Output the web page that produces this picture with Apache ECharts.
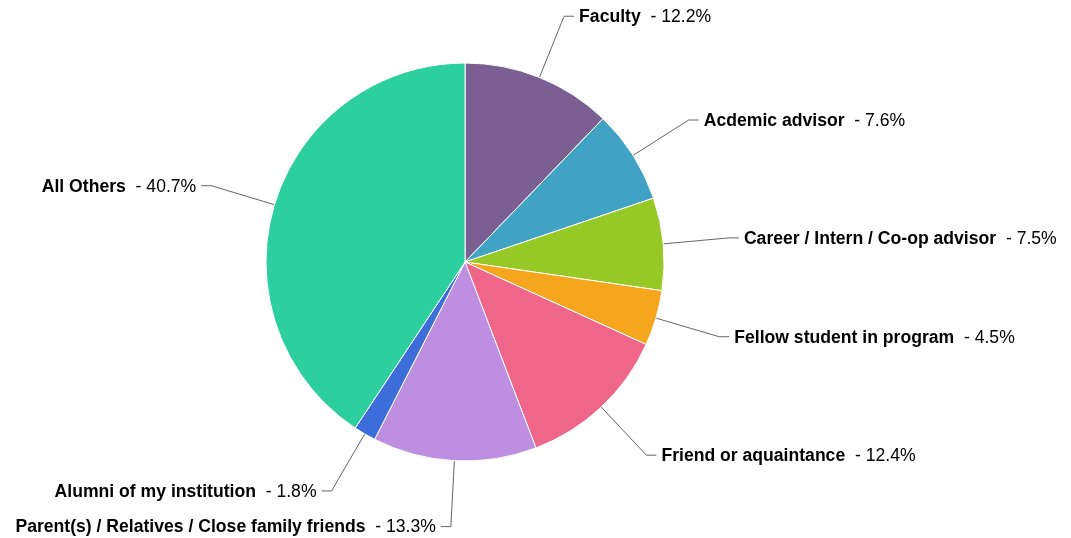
<!DOCTYPE html>
<html>
<head>
<meta charset="utf-8">
<style>
  html, body { margin: 0; padding: 0; background: #fff; }
  #chart { width: 1071px; height: 538px; }
</style>
<script src="https://cdn.jsdelivr.net/npm/echarts@6/dist/echarts.min.js"></script>
</head>
<body>
<div id="chart"></div>
<script>
// Survey answers, shares in percent, clockwise from the top
const categories = [
  'Faculty',
  'Acdemic advisor',
  'Career / Intern / Co-op advisor',
  'Fellow student in program',
  'Friend or aquaintance',
  'Parent(s) / Relatives / Close family friends',
  'Alumni of my institution',
  'All Others'
];
const shares = [12.2, 7.6, 7.5, 4.5, 12.4, 13.3, 1.8, 40.7];
const sliceColors = ['#7B5F92', '#41A3C4', '#96C926', '#F5A61C', '#F0658A', '#BE8FE0', '#3D6DD8', '#2ECF9F'];

const chart = echarts.init(document.getElementById('chart'), null, { renderer: 'canvas' });
const labelFont = '"Liberation Sans", Arial, Helvetica, sans-serif';
const labelSize = 17.6;

chart.setOption({
  backgroundColor: '#ffffff',
  animation: false,
  series: [{
    type: 'pie',
    center: [465, 262],
    radius: 199,
    startAngle: 90,
    clockwise: true,
    avoidLabelOverlap: false,
    data: categories.map((name, i) => ({
      name: name,
      value: shares[i],
      itemStyle: { color: sliceColors[i] }
    })),
    itemStyle: { borderColor: '#ffffff', borderWidth: 1 },
    label: {
      show: true,
      fontFamily: labelFont,
      fontSize: labelSize,
      color: '#000',
      padding: [2, 0, 0, 0],
      formatter: p => '{b|' + p.name + '}  - ' + p.value.toFixed(1) + '%',
      rich: {
        b: { fontWeight: 'bold', fontSize: labelSize, color: '#000', fontFamily: labelFont }
      }
    },
    labelLine: {
      show: true,
      length: 66,
      length2: 10,
      lineStyle: { color: '#666', width: 1 }
    },
    emphasis: { disabled: true }
  }]
});
</script>
</body>
</html>
